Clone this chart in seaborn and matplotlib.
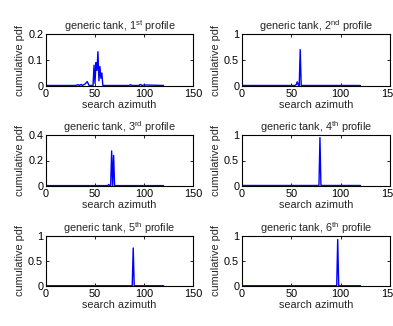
import matplotlib
matplotlib.use("Agg")
import matplotlib.pyplot as plt
import seaborn as sns
import pandas as pd

sns.set_theme(style="white")
plt.rcParams['font.family'] = ['Liberation Sans', 'DejaVu Sans']
plt.rcParams['mathtext.fontset'] = 'custom'
plt.rcParams['mathtext.rm'] = 'Liberation Sans'

# ---- data ----
az1 = [0, 30, 33, 34, 36, 37, 40, 42, 44, 48, 49, 50, 51, 52, 53, 54, 55, 56, 57, 58, 60, 85, 86, 88, 95, 96, 98, 100, 120]
pdf1 = [0.002, 0.002, 0.005, 0.002, 0.006, 0.002, 0.008, 0.017, 0.002, 0.002, 0.08, 0.01, 0.09, 0.06, 0.132, 0.02, 0.075, 0.03, 0.05, 0.002, 0.002, 0.002, 0.005, 0.002, 0.002, 0.006, 0.002, 0.004, 0.002]

az2 = [0, 54, 55, 56, 57, 58, 59, 60, 61, 120]
pdf2 = [0.01, 0.01, 0.03, 0.08, 0.02, 0.01, 0.70, 0.01, 0.01, 0.01]

az3 = [0, 63, 64, 65, 66, 67, 68, 69, 70, 71, 120]
pdf3 = [0.003, 0.003, 0.012, 0.003, 0.003, 0.275, 0.003, 0.24, 0.003, 0.003, 0.003]

az4 = [0, 78, 79, 80, 120]
pdf4 = [0.01, 0.01, 0.95, 0.01, 0.01]

az5 = [0, 87, 88, 89, 90, 91, 120]
pdf5 = [0.005, 0.005, 0.01, 0.76, 0.01, 0.005, 0.005]

az6 = [0, 96, 97, 98, 120]
pdf6 = [0.005, 0.005, 0.93, 0.005, 0.005]

ordinals = ["st", "nd", "rd", "th", "th", "th"]
ylims = [(0, 0.2), (0, 1), (0, 0.4), (0, 1), (0, 1), (0, 1)]
yticks = [[0, 0.1, 0.2], [0, 0.5, 1], [0, 0.2, 0.4], [0, 0.5, 1], [0, 0.5, 1], [0, 0.5, 1]]
yticklabels = [["0", "0.1", "0.2"], ["0", "0.5", "1"], ["0", "0.2", "0.4"],
               ["0", "0.5", "1"], ["0", "0.5", "1"], ["0", "0.5", "1"]]
xticks = [0, 50, 100, 150]

series = [(az1, pdf1), (az2, pdf2), (az3, pdf3), (az4, pdf4), (az5, pdf5), (az6, pdf6)]

W, H = 393, 326
fig = plt.figure(figsize=(W / 100, H / 100), dpi=100)

lefts = [46, 242]
widths = [147, 148]
rows = [(34, 86), (135, 186), (236, 286)]

fs = 7.8
for i, (az, pdf) in enumerate(series):
    r, c = divmod(i, 2)
    top, bot = rows[r]
    ax = fig.add_axes([lefts[c] / W, 1 - bot / H, widths[c] / W, (bot - top) / H])
    df = pd.DataFrame({"azimuth": az, "pdf": pdf})
    sns.lineplot(data=df, x="azimuth", y="pdf", ax=ax, color="#0000FF",
                 linewidth=1.0, estimator=None, sort=False)
    ax.set_xlim(0, 150)
    ax.set_ylim(*ylims[i])
    ax.set_xticks(xticks)
    ax.set_xticklabels([str(t) for t in xticks], fontsize=fs)
    ax.set_yticks(yticks[i])
    ax.set_yticklabels(yticklabels[i], fontsize=fs)
    ax.tick_params(direction="in", length=2, width=0.6, pad=2, colors="black",
                   top=True, right=True, bottom=True, left=True)
    for s in ax.spines.values():
        s.set_color("black")
        s.set_linewidth(0.8)
    ax.set_xlabel("search azimuth", fontsize=fs, labelpad=1)
    ax.set_ylabel("cumulative pdf", fontsize=fs, labelpad=2)
    ax.set_title(f"generic tank, {i + 1}$^{{\\rm {ordinals[i]}}}$ profile", fontsize=fs, pad=3)

fig.savefig("out.png", dpi=100)
